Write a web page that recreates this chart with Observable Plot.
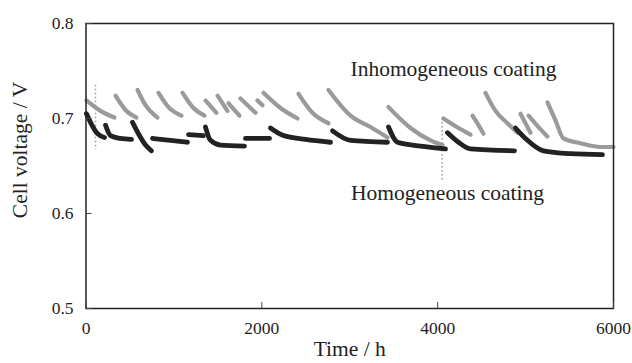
<!DOCTYPE html>
<html>
<head>
<meta charset="utf-8">
<script src="https://cdn.jsdelivr.net/npm/d3@7"></script>
<script src="https://cdn.jsdelivr.net/npm/@observablehq/plot@0.6"></script>
<style>
  html, body { margin: 0; padding: 0; background: #fff; }
</style>
</head>
<body>
<div id="chart"></div>
<script>
// Cell voltage during long-term operation, two cathode coatings.
// Each voltage recovery (after a refresh) starts a new cycle that decays.

// Inhomogeneous coating (grey)
const inhomHours = [
  5, 165, 324,
  336, 449, 574,
  586, 677, 813,
  825, 938, 1086,
  1098, 1223, 1348,
  1359, 1484,
  1496, 1609,
  1621, 1746,
  1757, 1928,
  1950, 2008,
  2019, 2212, 2406,
  2417, 2576, 2758,
  2758, 3009, 3236, 3429,
  3441, 3691, 3918, 4055,
  4066, 4237, 4374,
  4396, 4464, 4521,
  4544, 4658, 4794, 4908,
  4942, 5056,
  5033, 5147, 5249,
  5249, 5340, 5431, 5624, 5852, 6000
];
const inhomVolts = [
  0.719, 0.708, 0.701,
  0.724, 0.709, 0.701,
  0.730, 0.714, 0.701,
  0.727, 0.712, 0.703,
  0.727, 0.711, 0.703,
  0.719, 0.706,
  0.724, 0.708,
  0.716, 0.703,
  0.721, 0.706,
  0.719, 0.714,
  0.727, 0.711, 0.700,
  0.726, 0.706, 0.695,
  0.730, 0.703, 0.691, 0.680,
  0.712, 0.690, 0.677, 0.672,
  0.700, 0.690, 0.683,
  0.703, 0.693, 0.684,
  0.727, 0.708, 0.695, 0.685,
  0.705, 0.685,
  0.703, 0.691, 0.681,
  0.717, 0.698, 0.679, 0.674, 0.670, 0.670
];
const inhomCycle = [
  1, 1, 1,
  2, 2, 2,
  3, 3, 3,
  4, 4, 4,
  5, 5, 5,
  6, 6,
  7, 7,
  8, 8,
  9, 9,
  10, 10,
  11, 11, 11,
  12, 12, 12,
  13, 13, 13, 13,
  14, 14, 14, 14,
  15, 15, 15,
  16, 16, 16,
  17, 17, 17, 17,
  18, 18,
  19, 19, 19,
  20, 20, 20, 20, 20, 20
];

// Homogeneous coating (black)
const homHours = [
  5, 51, 131, 210,
  222, 279, 392, 518,
  529, 597, 677, 745,
  756, 961, 1154,
  1166, 1336,
  1359, 1416, 1530, 1803,
  1814, 1985, 2087,
  2098, 2246, 2497, 2781,
  2804, 3009, 3429,
  3441, 3543, 3805, 4089,
  4112, 4237, 4374, 4874,
  4885, 4999, 5203, 5511, 5875
];
const homVolts = [
  0.705, 0.696, 0.684, 0.680,
  0.693, 0.682, 0.679, 0.678,
  0.696, 0.684, 0.672, 0.666,
  0.679, 0.677, 0.675,
  0.683, 0.682,
  0.691, 0.677, 0.672, 0.671,
  0.679, 0.679, 0.679,
  0.690, 0.682, 0.678, 0.675,
  0.687, 0.677, 0.675,
  0.691, 0.675, 0.671, 0.668,
  0.685, 0.675, 0.668, 0.666,
  0.690, 0.679, 0.666, 0.663, 0.662
];
const homCycle = [
  1, 1, 1, 1,
  2, 2, 2, 2,
  3, 3, 3, 3,
  4, 4, 4,
  5, 5,
  6, 6, 6, 6,
  7, 7, 7,
  8, 8, 8, 8,
  9, 9, 9,
  10, 10, 10, 10,
  11, 11, 11, 11,
  12, 12, 12, 12, 12
];

// Short excursions of the grey trace (scattered points)
const spikeHours = [108, 4051];
const spikeTop = [0.735, 0.700];
const spikeBottom = [0.667, 0.635];

// Axis ticks and texts
const xTicks = [0, 2000, 4000, 6000];
const yTicks = [0.5, 0.6, 0.7, 0.8];
const xTitle = ["Time / h"];
const yTitle = ["Cell voltage / V"];
const seriesNames = ["Inhomogeneous coating", "Homogeneous coating"];
const nameHours = [4180, 4112];
const nameVolts = [0.7516, 0.621];

const inhom = inhomHours.map((t, i) => ({t, v: inhomVolts[i], cycle: inhomCycle[i]}));
const hom = homHours.map((t, i) => ({t, v: homVolts[i], cycle: homCycle[i]}));
const spikes = spikeHours.map((t, i) => ({t, y1: spikeTop[i], y2: spikeBottom[i]}));
const names = seriesNames.map((s, i) => ({s, t: nameHours[i], v: nameVolts[i]}));

const serif = "Liberation Serif";

const chart = Plot.plot({
  width: 632,
  height: 363,
  marginLeft: 85.5,
  marginRight: 19,
  marginTop: 23,
  marginBottom: 55,
  style: {fontFamily: serif, fontSize: "17.5px", background: "#fff", color: "#222"},
  x: {domain: [0, 6000]},
  y: {domain: [0.5, 0.8]},
  marks: [
    Plot.ruleX(spikes, {x: "t", y1: "y1", y2: "y2", stroke: "#9a9a9a", strokeWidth: 1.5, strokeDasharray: "1.5,2.5"}),
    Plot.line(inhom, {x: "t", y: "v", z: "cycle", curve: "monotone-x", stroke: "#9a9a9a", strokeWidth: 4.2, strokeLinecap: "round", strokeLinejoin: "round"}),
    Plot.line(hom, {x: "t", y: "v", z: "cycle", curve: "monotone-x", stroke: "#222", strokeWidth: 4.8, strokeLinecap: "round", strokeLinejoin: "round"}),
    Plot.frame({stroke: "#222", strokeWidth: 1.5}),
    Plot.axisX({ticks: xTicks, tickSize: -6, tickPadding: 18.6, tickFormat: d3.format("d"), label: null, stroke: "#444", fontFamily: serif, fontSize: 17.5, fill: "#222"}),
    Plot.axisY({ticks: yTicks, tickSize: -6, tickPadding: 18.5, tickFormat: d3.format(".1f"), label: null, stroke: "#444", fontFamily: serif, fontSize: 17.5, fill: "#222"}),
    Plot.text(xTitle, {frameAnchor: "bottom", dy: 47, fontSize: 21.5, fontFamily: serif, fill: "#222"}),
    Plot.text(yTitle, {frameAnchor: "left", textAnchor: "middle", rotate: -90, dx: -66, dy: -16, fontSize: 21.5, fontFamily: serif, fill: "#222"}),
    Plot.text(names, {x: "t", y: "v", text: "s", fontSize: 21.5, fontFamily: serif, fill: "#222"})
  ]
});
document.getElementById("chart").append(chart);
</script>
</body>
</html>
